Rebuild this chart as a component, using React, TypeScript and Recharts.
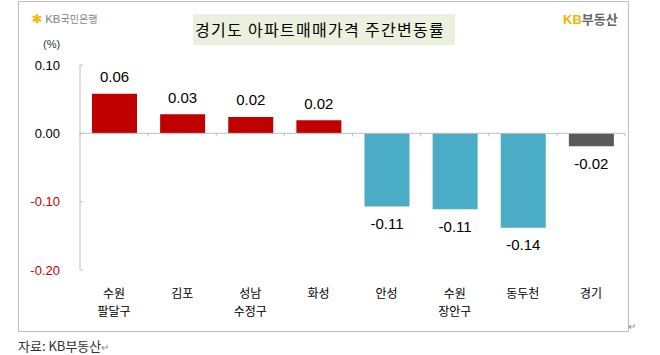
import React from "react";
import { BarChart, Bar, XAxis, YAxis, Cell, LabelList, ReferenceLine } from "recharts";

const categories = ["수원\n팔달구", "김포", "성남\n수정구", "화성", "안성", "수원\n장안구", "동두천", "경기"];
const values = [0.058, 0.028, 0.024, 0.019, -0.107, -0.111, -0.138, -0.019];
const valueLabels = ["0.06", "0.03", "0.02", "0.02", "-0.11", "-0.11", "-0.14", "-0.02"];
const barColors = ["#c00000", "#c00000", "#c00000", "#c00000", "#4bacc6", "#4bacc6", "#4bacc6", "#595959"];
const yTicks = [0.1, 0, -0.1, -0.2];
const yTickLabels = ["0.10", "0.00", "-0.10", "-0.20"];

const data = categories.map((c, i) => ({ name: c, value: values[i], label: valueLabels[i] }));

const NUM_FONT = "'Liberation Sans', Arial, sans-serif";
const KR_FONT = "'Noto Sans CJK KR', 'Noto Sans', sans-serif";

const YTick = (props: any) => {
  const { x, y, payload } = props;
  const v = payload.value;
  const idx = yTicks.indexOf(v);
  const label = idx >= 0 ? yTickLabels[idx] : String(v);
  return (
    <g>
      <text x={x} y={y} textAnchor="end" dominantBaseline="central" fontSize={13} fontFamily={NUM_FONT} fill={v < 0 ? "#c00000" : "#000"}>
        {label}
      </text>
      <line x1={x + 20} x2={x + 23} y1={y} y2={y} stroke="#bfbfbf" strokeWidth={1} />
    </g>
  );
};

const XTick = (props: any) => {
  const { x, y, payload } = props;
  const lines = String(payload.value).split("\n");
  return (
    <g>
      {lines.map((l, i) => (
        <text key={i} x={x} y={y + 22 + i * 18} textAnchor="middle" dominantBaseline="central" fontSize={12} fontFamily={KR_FONT} fill="#000">
          {l}
        </text>
      ))}
    </g>
  );
};

const ValueLabel = (props: any) => {
  const { x, y, width, height, index } = props;
  const v = values[index];
  const top = Math.min(y, y + height);
  const bottom = Math.max(y, y + height);
  const cy = v >= 0 ? top - 17 : bottom + 17;
  return (
    <text x={x + width / 2} y={cy} textAnchor="middle" dominantBaseline="central" fontSize={15} fontFamily={NUM_FONT} fill="#000">
      {valueLabels[index]}
    </text>
  );
};

const ZeroLine = (props: any) => {
  const { x1, y1, x2, y2 } = props;
  const n = categories.length;
  const ticks = [];
  for (let k = 0; k <= n; k++) {
    const xx = x1 + ((x2 - x1) * k) / n;
    ticks.push(<line key={k} x1={xx} x2={xx} y1={y1} y2={y1 + 3} stroke="#bfbfbf" strokeWidth={1} />);
  }
  return (
    <g>
      <line x1={x1} y1={y1} x2={x2} y2={y2} stroke="#bfbfbf" strokeWidth={1} />
      {ticks}
    </g>
  );
};

export default function App() {
  return (
    <div style={{ position: "fixed", left: 0, top: 0, width: 660, height: 355, background: "#fff", overflow: "hidden" }}>
      <div style={{ position: "absolute", left: 18, top: 1, width: 609, height: 329, border: "1px solid #bfbfbf" }} />
      <div style={{ position: "absolute", left: 0, top: 0 }}>
        <BarChart width={660} height={330} data={data} margin={{ top: 65, right: 35, left: 20, bottom: 0 }} barSize={45}>
          <YAxis
            width={60}
            domain={[-0.2, 0.1]}
            ticks={yTicks}
            tick={<YTick />}
            tickSize={0}
            tickMargin={20}
            axisLine={{ stroke: "#bfbfbf" }}
            tickLine={false}
            interval={0}
            allowDataOverflow
          />
          <XAxis dataKey="name" height={60} axisLine={false} tickLine={false} tickSize={0} tickMargin={0} tick={<XTick />} interval={0} />
          <ReferenceLine y={0} shape={<ZeroLine />} ifOverflow="visible" />
          <Bar dataKey="value" isAnimationActive={false}>
            {data.map((d, i) => (
              <Cell key={i} fill={barColors[i]} />
            ))}
            <LabelList dataKey="label" content={<ValueLabel />} />
          </Bar>
        </BarChart>
      </div>
      {/* Title box */}
      <div
        style={{
          position: "absolute",
          left: 193,
          top: 14,
          width: 262,
          height: 31,
          background: "#ebf1de",
          fontFamily: KR_FONT,
          fontSize: 16,
          letterSpacing: 1.3,
          color: "#000",
          lineHeight: "31px",
          paddingLeft: 2,
          whiteSpace: "nowrap",
          boxSizing: "border-box",
        }}
      >
        경기도 아파트매매가격 주간변동률
      </div>
      {/* KB Kookmin logo */}
      <div style={{ position: "absolute", left: 32, top: 10, fontFamily: KR_FONT, fontSize: 11, color: "#7f7f7f", whiteSpace: "nowrap", lineHeight: "16px" }}>
        <span style={{ color: "#f5b400", fontWeight: 700, fontSize: 12 }}>✻</span>
        <span style={{ fontFamily: NUM_FONT, fontSize: 11.5 }}> KB</span>
        <span style={{ fontSize: 10 }}>국민은행</span>
      </div>
      {/* KB 부동산 logo */}
      <div style={{ position: "absolute", left: 563, top: 10, fontFamily: KR_FONT, fontSize: 13, color: "#666", whiteSpace: "nowrap", lineHeight: "18px", fontWeight: 700 }}>
        <span style={{ color: "#f0b400", fontFamily: NUM_FONT }}>KB</span>
        <span>부동산</span>
      </div>
      {/* unit */}
      <div style={{ position: "absolute", left: 43, top: 37, fontFamily: NUM_FONT, fontSize: 11, color: "#333", lineHeight: "14px" }}>(%)</div>
      {/* paragraph mark */}
      <div style={{ position: "absolute", left: 628, top: 320, fontFamily: KR_FONT, fontSize: 10, color: "#888", lineHeight: "12px" }}>↵</div>
      {/* footnote */}
      <div style={{ position: "absolute", left: 18, top: 337, fontFamily: KR_FONT, fontSize: 13, color: "#333", lineHeight: "17px", whiteSpace: "nowrap" }}>
        자료: KB부동산<span style={{ color: "#888", fontSize: 10 }}>↵</span>
      </div>
    </div>
  );
}
